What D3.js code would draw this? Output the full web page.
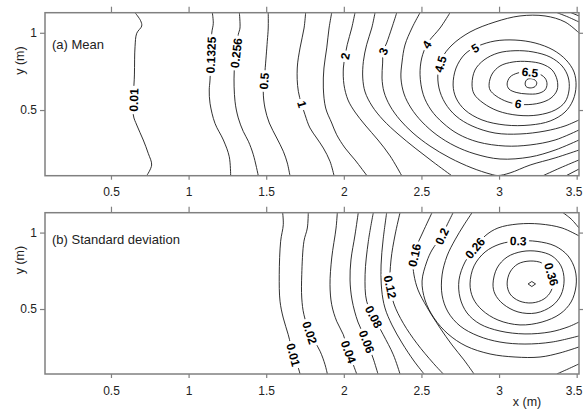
<!DOCTYPE html>
<html>
<head>
<meta charset="utf-8">
<script src="https://cdn.jsdelivr.net/npm/d3@7"></script>
<style>
  body { margin: 0; background: #fff; }
  text { font-family: "Liberation Sans", Arial, sans-serif; }
</style>
</head>
<body>
<svg id="chart" width="584" height="413"></svg>
<script>
// =========================
// DATA (x / y in metres)
// =========================
const xTicks = [0.5, 1, 1.5, 2, 2.5, 3, 3.5];
const yTicks = [0.5, 1];

// (a) mean : contour pieces
const meanLines = [
  { level: 0.01, pts: [[0.655,1.130],[0.691,1.078],[0.698,1.044],[0.666,0.997],[0.655,0.910],[0.651,0.727],[0.644,0.468],[0.666,0.403],[0.708,0.306],[0.740,0.220],[0.762,0.144],[0.730,0.075]] },
  { level: 0.1325, pts: [[1.153,1.130],[1.159,1.061],[1.149,0.997],[1.138,0.694],[1.133,0.630],[1.138,0.544],[1.170,0.414],[1.224,0.306],[1.262,0.198],[1.271,0.075]] },
  { level: 0.256, pts: [[1.327,1.130],[1.331,1.031],[1.320,0.988],[1.294,0.753],[1.299,0.557],[1.320,0.449],[1.352,0.362],[1.385,0.298],[1.417,0.211],[1.449,0.075]] },
  { level: 0.5, pts: [[1.513,1.130],[1.513,1.031],[1.507,0.945],[1.492,0.751],[1.481,0.619],[1.492,0.513],[1.520,0.416],[1.568,0.319],[1.610,0.233],[1.636,0.157],[1.653,0.075]] },
  { level: 1, pts: [[1.754,1.130],[1.744,1.031],[1.718,0.902],[1.700,0.772],[1.707,0.621],[1.750,0.470],[1.782,0.384],[1.825,0.319],[1.868,0.254],[1.911,0.168],[1.937,0.075]] },
  { level: 1.5, pts: [[1.922,1.130],[1.905,1.031],[1.890,0.902],[1.872,0.772],[1.868,0.643],[1.883,0.513],[1.922,0.416],[1.954,0.340],[2.008,0.254],[2.072,0.177],[2.149,0.075]] },
  { level: 2, pts: [[2.072,1.130],[2.051,1.031],[2.022,0.923],[2.008,0.848],[1.997,0.772],[2.001,0.664],[2.027,0.565],[2.072,0.487],[2.137,0.403],[2.220,0.306],[2.298,0.203],[2.373,0.075]] },
  { level: 2, pts: [[3.432,0.075],[3.515,0.118]] },
  { level: 2.5, pts: [[2.201,1.130],[2.180,1.031],[2.147,0.923],[2.126,0.815],[2.122,0.707],[2.137,0.617],[2.182,0.526],[2.253,0.436],[2.349,0.345],[2.459,0.254],[2.575,0.164],[2.695,0.075]] },
  { level: 2.5, pts: [[3.283,0.075],[3.393,0.125],[3.515,0.177]] },
  { level: 3, pts: [[2.341,1.130],[2.309,1.031],[2.276,0.934],[2.254,0.880],[2.250,0.804],[2.246,0.707],[2.259,0.617],[2.298,0.526],[2.362,0.436],[2.446,0.351],[2.555,0.267],[2.684,0.190],[2.826,0.125],[2.942,0.086],[2.993,0.076],[3.071,0.093],[3.200,0.144],[3.361,0.190],[3.515,0.241]] },
  { level: 3.5, pts: [[2.491,1.130],[2.439,1.031],[2.394,0.921],[2.375,0.811],[2.368,0.707],[2.388,0.604],[2.433,0.513],[2.504,0.423],[2.600,0.338],[2.716,0.267],[2.845,0.216],[3.006,0.183],[3.200,0.196],[3.361,0.241],[3.515,0.306]] },
  { level: 3.5, pts: [[3.464,1.130],[3.515,1.109]] },
  { level: 4, pts: [[2.684,1.130],[2.620,1.031],[2.555,0.955],[2.534,0.923],[2.502,0.837],[2.491,0.729],[2.512,0.599],[2.562,0.500],[2.639,0.416],[2.736,0.345],[2.865,0.293],[3.039,0.267],[3.200,0.274],[3.361,0.306],[3.515,0.371]] },
  { level: 4, pts: [[3.374,1.130],[3.445,1.102],[3.515,1.070]] },
  { level: 4.5, pts: [[3.515,0.999],[3.425,1.070],[3.296,1.109],[3.135,1.109],[2.974,1.070],[2.813,1.005],[2.697,0.921],[2.633,0.837],[2.607,0.746],[2.613,0.643],[2.652,0.546],[2.723,0.461],[2.826,0.397],[2.974,0.351],[3.135,0.345],[3.296,0.364],[3.425,0.397],[3.515,0.436]] },
  { level: 5, pts: [[2.704,0.662],[2.723,0.772],[2.781,0.863],[2.865,0.914],[2.974,0.947],[3.103,0.953],[3.232,0.934],[3.348,0.889],[3.432,0.824],[3.483,0.746],[3.496,0.656],[3.477,0.565],[3.425,0.487],[3.329,0.429],[3.200,0.403],[3.039,0.403],[2.890,0.436],[2.781,0.500],[2.723,0.578],[2.704,0.662]] },
  { level: 5.5, pts: [[2.826,0.669],[2.845,0.759],[2.903,0.824],[2.993,0.869],[3.103,0.884],[3.219,0.876],[3.329,0.843],[3.406,0.785],[3.445,0.714],[3.451,0.630],[3.425,0.552],[3.361,0.500],[3.251,0.468],[3.122,0.466],[2.993,0.494],[2.897,0.546],[2.839,0.604],[2.826,0.669]] },
  { level: 6, pts: [[2.936,0.669],[2.955,0.733],[3.006,0.785],[3.090,0.811],[3.187,0.814],[3.277,0.798],[3.342,0.759],[3.374,0.695],[3.374,0.630],[3.335,0.578],[3.264,0.546],[3.161,0.535],[3.058,0.552],[2.981,0.591],[2.942,0.630],[2.936,0.669]] },
  { level: 6.5, pts: [[3.052,0.669],[3.071,0.714],[3.122,0.740],[3.187,0.746],[3.251,0.737],[3.296,0.707],[3.309,0.669],[3.296,0.630],[3.251,0.607],[3.180,0.604],[3.110,0.614],[3.064,0.636],[3.052,0.669]] },
  { level: 7, pts: [[3.168,0.675],[3.180,0.698],[3.206,0.703],[3.232,0.694],[3.243,0.675],[3.232,0.652],[3.200,0.643],[3.174,0.652],[3.168,0.675]] }
];
// [level, x, y] where the label sits
const meanLabels = [
  [0.01, 0.647, 0.565], [0.1325, 1.141, 0.856], [0.256, 1.309, 0.869], [0.5, 1.486, 0.688],
  [1, 1.729, 0.536], [2, 2.008, 0.848], [3, 2.254, 0.880], [4, 2.534, 0.923],
  [4.5, 2.620, 0.798], [5, 2.845, 0.902], [6, 3.124, 0.546], [6.5, 3.200, 0.746]
];

// (b) standard deviation : contour pieces
const stdLines = [
  { level: 0.01, pts: [[1.606,1.130],[1.610,1.052],[1.593,0.943],[1.584,0.725],[1.589,0.551],[1.610,0.441],[1.642,0.332],[1.675,0.201],[1.707,0.114],[1.718,0.075]] },
  { level: 0.02, pts: [[1.771,1.130],[1.765,1.030],[1.743,0.943],[1.729,0.725],[1.729,0.572],[1.743,0.463],[1.782,0.343],[1.847,0.224],[1.879,0.136],[1.894,0.075]] },
  { level: 0.04, pts: [[1.958,1.130],[1.950,1.030],[1.922,0.834],[1.911,0.659],[1.922,0.528],[1.954,0.420],[1.997,0.332],[2.029,0.224],[2.061,0.136],[2.083,0.075]] },
  { level: 0.06, pts: [[2.093,1.130],[2.072,0.984],[2.046,0.821],[2.040,0.690],[2.053,0.559],[2.091,0.415],[2.147,0.289],[2.188,0.180],[2.220,0.075]] },
  { level: 0.08, pts: [[2.190,1.130],[2.158,0.943],[2.137,0.725],[2.147,0.551],[2.191,0.453],[2.254,0.332],[2.319,0.201],[2.362,0.075]] },
  { level: 0.1, pts: [[2.276,1.130],[2.253,0.952],[2.240,0.788],[2.244,0.625],[2.265,0.507],[2.310,0.396],[2.375,0.278],[2.452,0.160],[2.517,0.075]] },
  { level: 0.12, pts: [[2.362,1.130],[2.330,0.984],[2.304,0.821],[2.298,0.651],[2.323,0.533],[2.383,0.407],[2.470,0.276],[2.577,0.145],[2.641,0.075]] },
  { level: 0.16, pts: [[2.568,1.130],[2.510,1.004],[2.465,0.899],[2.446,0.808],[2.452,0.723],[2.478,0.625],[2.534,0.515],[2.620,0.376],[2.697,0.265],[2.774,0.167],[2.839,0.075]] },
  { level: 0.16, pts: [[3.372,0.075],[3.445,0.108],[3.515,0.141]] },
  { level: 0.2, pts: [[2.704,1.130],[2.665,1.050],[2.631,0.976],[2.568,0.886],[2.534,0.808],[2.504,0.683],[2.523,0.559],[2.581,0.441],[2.671,0.337],[2.787,0.258],[2.942,0.206],[3.103,0.186],[3.264,0.186],[3.393,0.213],[3.515,0.252]] },
  { level: 0.23, pts: [[2.826,1.130],[2.774,1.050],[2.716,0.952],[2.665,0.847],[2.633,0.723],[2.633,0.591],[2.671,0.481],[2.749,0.389],[2.865,0.324],[3.006,0.284],[3.167,0.271],[3.341,0.284],[3.515,0.324]] },
  { level: 0.23, pts: [[3.412,1.130],[3.464,1.089],[3.515,1.030]] },
  { level: 0.26, pts: [[3.515,0.978],[3.406,1.030],[3.264,1.056],[3.122,1.056],[2.993,1.030],[2.910,0.978],[2.845,0.899],[2.781,0.808],[2.742,0.690],[2.749,0.572],[2.794,0.474],[2.877,0.402],[3.006,0.356],[3.167,0.337],[3.329,0.350],[3.445,0.383],[3.515,0.415]] },
  { level: 0.3, pts: [[2.813,0.664],[2.839,0.782],[2.910,0.873],[3.006,0.925],[3.122,0.945],[3.245,0.942],[3.361,0.912],[3.445,0.847],[3.490,0.755],[3.496,0.651],[3.464,0.546],[3.393,0.468],[3.277,0.415],[3.135,0.396],[2.993,0.428],[2.890,0.494],[2.832,0.572],[2.813,0.664]] },
  { level: 0.33, pts: [[2.961,0.664],[2.987,0.768],[3.052,0.840],[3.148,0.876],[3.251,0.877],[3.341,0.847],[3.399,0.782],[3.419,0.690],[3.399,0.592],[3.341,0.520],[3.238,0.474],[3.122,0.481],[3.026,0.533],[2.974,0.598],[2.961,0.664]] },
  { level: 0.36, pts: [[3.052,0.664],[3.071,0.742],[3.122,0.795],[3.200,0.814],[3.277,0.801],[3.329,0.755],[3.348,0.690],[3.335,0.618],[3.290,0.566],[3.213,0.540],[3.129,0.553],[3.071,0.598],[3.052,0.664]] },
  { level: 0.38, pts: [[3.187,0.664],[3.211,0.680],[3.235,0.664],[3.211,0.647],[3.187,0.664]] }
];
const stdLabels = [
  [0.01, 1.675, 0.201], [0.02, 1.785, 0.347], [0.04, 2.037, 0.222], [0.06, 2.153, 0.288],
  [0.08, 2.191, 0.448], [0.12, 2.298, 0.644], [0.16, 2.452, 0.853], [0.2, 2.631, 0.976],
  [0.26, 2.845, 0.899], [0.3, 3.124, 0.945], [0.36, 3.329, 0.725]
];

// =========================
// LAYOUT
// =========================
const svg = d3.select("#chart");
const frameLeft = 45, frameRight = 579;
const x = d3.scaleLinear().domain([0.075, 3.515]).range([frameLeft, frameRight]);

const panels = [
  { id: "a", lines: meanLines, labels: meanLabels, top: 12.7, bottom: 175.7, titleY: 49, title: "(a) Mean" },
  { id: "b", lines: stdLines, labels: stdLabels, top: 212.7, bottom: 374, titleY: 244, title: "(b) Standard deviation" }
];

function isClosed(p) {
  const a = p[0], b = p[p.length - 1];
  return p.length > 3 && a[0] === b[0] && a[1] === b[1];
}

// nearest point on a pixel polyline + local direction
function nearestOn(pix, px, py) {
  let best = null;
  for (let i = 0; i < pix.length - 1; i++) {
    const [x1, y1] = pix[i], [x2, y2] = pix[i + 1];
    const dx = x2 - x1, dy = y2 - y1;
    const L = dx * dx + dy * dy || 1;
    const t = Math.max(0, Math.min(1, ((px - x1) * dx + (py - y1) * dy) / L));
    const qx = x1 + t * dx, qy = y1 + t * dy;
    const d = (qx - px) ** 2 + (qy - py) ** 2;
    if (!best || d < best.d) best = { d, qx, qy, ang: Math.atan2(dy, dx) * 180 / Math.PI };
  }
  return best;
}

function drawPanel(cfg) {
  const y = d3.scaleLinear().domain([0.075, 1.13]).range([cfg.bottom, cfg.top]);
  const g = svg.append("g");

  svg.append("clipPath").attr("id", "clip-" + cfg.id)
    .append("rect").attr("x", frameLeft).attr("y", cfg.top)
    .attr("width", frameRight - frameLeft).attr("height", cfg.bottom - cfg.top);

  const body = g.append("g").attr("clip-path", `url(#clip-${cfg.id})`);

  const open = d3.line().x(d => x(d[0])).y(d => y(d[1])).curve(d3.curveCatmullRom.alpha(0.5));
  const loop = d3.line().x(d => x(d[0])).y(d => y(d[1])).curve(d3.curveCatmullRomClosed.alpha(0.5));
  const tiny = d3.line().x(d => x(d[0])).y(d => y(d[1])).curve(d3.curveLinearClosed);

  cfg.lines.forEach(c => {
    const closed = isClosed(c.pts);
    const pts = closed ? c.pts.slice(0, -1) : c.pts;
    const gen = closed ? (pts.length < 6 ? tiny : loop) : open;
    body.append("path")
      .attr("d", gen(pts))
      .attr("fill", "none")
      .attr("stroke", "#1a1a1a")
      .attr("stroke-width", 0.9);
  });

  // contour labels with a white gap
  cfg.labels.forEach(([lev, lx, ly]) => {
    const px = x(lx), py = y(ly);
    let best = null;
    cfg.lines.filter(c => c.level === lev).forEach(c => {
      const r = nearestOn(c.pts.map(d => [x(d[0]), y(d[1])]), px, py);
      if (!best || r.d < best.d) best = r;
    });
    let ang = best.ang;
    if (ang > 90) ang -= 180;
    if (ang <= -90) ang += 180;
    const lg = body.append("g").attr("transform", `translate(${best.qx},${best.qy}) rotate(${ang})`);
    const t = lg.append("text")
      .attr("text-anchor", "middle")
      .attr("dy", "0.36em")
      .attr("font-size", 12)
      .attr("font-weight", "bold")
      .attr("fill", "#000")
      .text(String(lev));
    const w = t.node().getComputedTextLength();
    lg.insert("rect", "text")
      .attr("x", -w / 2 - 2.5).attr("y", -6)
      .attr("width", w + 5).attr("height", 12)
      .attr("fill", "#fff");
  });

  // frame
  g.append("rect")
    .attr("x", frameLeft).attr("y", cfg.top)
    .attr("width", frameRight - frameLeft).attr("height", cfg.bottom - cfg.top)
    .attr("fill", "none").attr("stroke", "#808080").attr("stroke-width", 1.5);

  const fmt = d => String(d);
  const axes = [
    g.append("g").attr("transform", `translate(0,${cfg.bottom})`)
      .call(d3.axisBottom(x).tickValues(xTicks).tickSize(4).tickPadding(8).tickFormat(fmt)),
    g.append("g").attr("transform", `translate(0,${cfg.top})`)
      .call(d3.axisTop(x).tickValues(xTicks).tickSize(6).tickFormat("")),
    g.append("g").attr("transform", `translate(${frameLeft},0)`)
      .call(d3.axisLeft(y).tickValues(yTicks).tickSize(5).tickPadding(3).tickFormat(fmt)),
    g.append("g").attr("transform", `translate(${frameRight},0)`)
      .call(d3.axisRight(y).tickValues(yTicks).tickSize(4).tickFormat(""))
  ];
  axes.forEach(a => {
    a.select(".domain").remove();
    a.selectAll("line").attr("stroke", "#808080").attr("stroke-width", 1.2);
    a.selectAll("text").attr("font-size", 12).attr("fill", "#222")
      .attr("font-family", "Liberation Sans, Arial, sans-serif");
  });
  // keep the last x label inside the picture
  axes[0].selectAll("text").filter(d => d === 3.5).attr("dx", -3);

  g.append("text")
    .attr("x", 52).attr("y", cfg.titleY)
    .attr("font-size", 13).attr("fill", "#222")
    .text(cfg.title);

  g.append("text")
    .attr("transform", `translate(20,${y(0.82)}) rotate(-90)`)
    .attr("text-anchor", "middle").attr("dy", "0.35em")
    .attr("font-size", 12.5).attr("fill", "#222")
    .text("y (m)");
}

panels.forEach(drawPanel);

svg.append("text")
  .attr("x", 527).attr("y", 406)
  .attr("text-anchor", "middle")
  .attr("font-size", 12.5).attr("fill", "#222")
  .text("x (m)");
</script>
</body>
</html>
